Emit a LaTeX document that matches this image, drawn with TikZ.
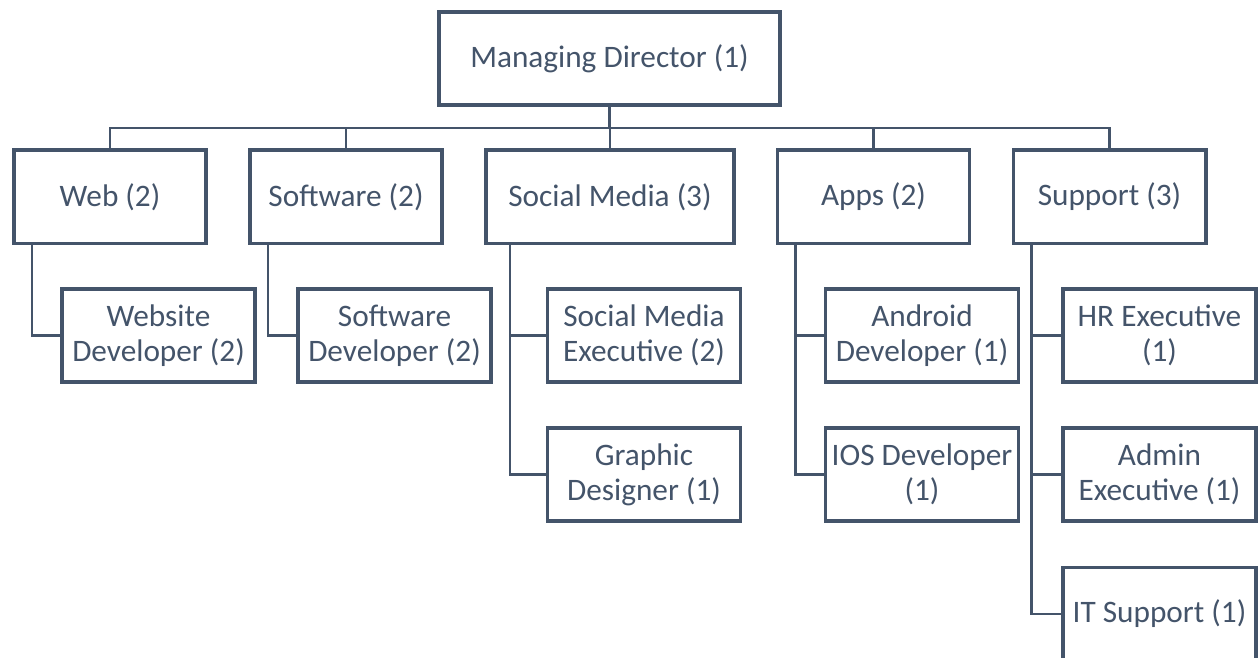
\documentclass[tikz,border=0pt]{standalone}
\usepackage{fontspec}
\setmainfont{Carlito}
\usepackage{tikz}
\definecolor{slate}{HTML}{44546A}

\begin{document}
\begin{tikzpicture}[x=0.02cm,y=-0.02cm,
    box/.style={draw=slate,line width=2pt,rectangle,inner sep=0pt,align=center,
        text=slate,font=\fontsize{17.8}{20}\selectfont,minimum height=1.87cm},
    unit/.style={box,minimum width=3.85cm},
    role/.style={box,minimum width=3.87cm},
    link/.style={draw=slate,line width=1.2pt}]
            \useasboundingbox (0,0) rectangle (1258,658);

            \node[box,minimum width=6.83cm] (md) at (609.5,58.5) {Managing Director (1)};

            \node[unit] (web) at (110,197) {Web (2)};
            \node[unit] (soft) at (346,197) {Software (2)};
            \node[box,minimum width=4.97cm] (social) at (610,197) {Social Media (3)};
            \node[unit] (apps) at (873.5,197) {Apps (2)};
            \node[unit] (support) at (1109.5,197) {Support (3)};

            \node[role] (webdev) at (158.5,335.5) {Website\\Developer (2)};
            \node[role] (softdev) at (394.5,335.5) {Software\\Developer (2)};
            \node[role] (smexec) at (644,335.5) {Social Media\\Executive (2)};
            \node[role] (graphic) at (644,474.5) {Graphic\\Designer (1)};
            \node[role] (android) at (922,335.5) {Android\\Developer (1)};
            \node[role] (ios) at (922,474.5) {IOS Developer\\(1)};
            \node[role] (hr) at (1159.5,335.5) {HR Executive\\(1)};
            \node[role] (admin) at (1159.5,474.5) {Admin\\Executive (1)};
            \node[role] (it) at (1159.5,614) {IT Support (1)};

            % top level
            \coordinate (bus) at (609.5,128);
            \draw[link] (md.south) -- (bus);
            \foreach \n in {web,soft,social,apps,support}
                \draw[link] (bus) -| (\n.north);

            % branches
            \draw[link] ([xshift=0.4cm]web.south west) |- (webdev.west);
            \draw[link] ([xshift=0.4cm]soft.south west) |- (softdev.west);
            \draw[link] ([xshift=0.52cm]social.south west) |- (graphic.west);
            \draw[link] ([xshift=0.52cm]social.south west) |- (smexec.west);
            \draw[link] ([xshift=0.4cm]apps.south west) |- (ios.west);
            \draw[link] ([xshift=0.4cm]apps.south west) |- (android.west);
            \draw[link] ([xshift=0.4cm]support.south west) |- (it.west);
            \draw[link] ([xshift=0.4cm]support.south west) |- (admin.west);
            \draw[link] ([xshift=0.4cm]support.south west) |- (hr.west);
        \end{tikzpicture}
\end{document}
